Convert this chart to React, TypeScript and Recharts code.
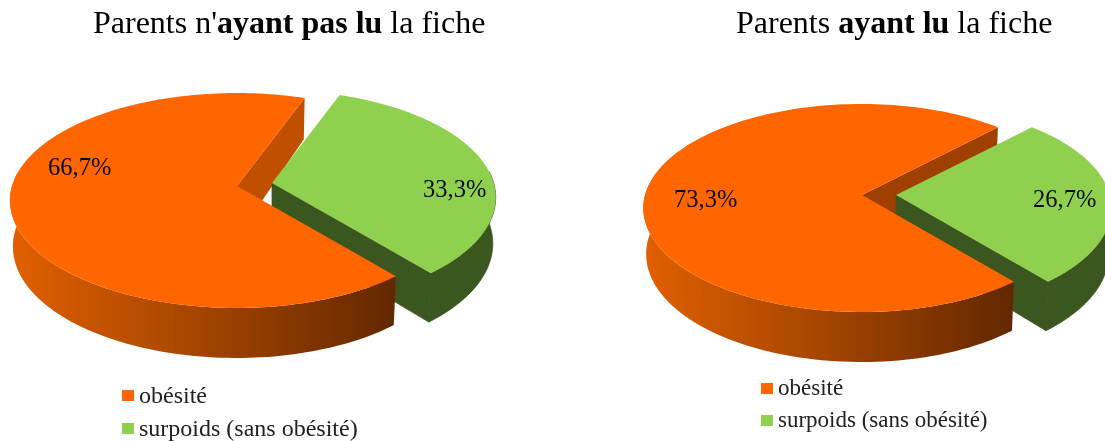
import React from "react";
import { PieChart, Pie, Legend } from "recharts";

const categories = ["surpoids (sans obésité)", "obésité"];
const colours = ["#8fd04f", "#ff6600"];
const leftValues = [33.3, 66.7];
const rightValues = [26.7, 73.3];

const FONT = "'Liberation Serif', 'Times New Roman', serif";
const OBESITE = categories[1];

type Panel = {
  id: string;
  left: number;
  cx: number;
  cy: number;
  rx: number;
  ry: number;
  k: number;
  startAngle: number;
  explode: [number, number];
  cutWall: string;
  labels: Record<string, [number, number]>;
  legend: { left: number; top: number; gap: number; fontSize: number };
};

const panels: { values: number[]; title: React.ReactNode; titleLeft: number; panel: Panel }[] = [
  {
    values: leftValues,
    titleLeft: 93,
    title: (
      <>
        Parents n'<b>ayant pas lu</b> la fiche
      </>
    ),
    panel: {
      id: "a",
      left: 0,
      cx: 237,
      cy: 186,
      rx: 225,
      ry: 105.5,
      k: 0.135,
      startAngle: 70,
      explode: [35, -3],
      cutWall: "#c04f00",
      labels: { [OBESITE]: [48, 175], [categories[0]]: [423, 197] },
      legend: { left: 122, top: 379, gap: 33, fontSize: 24 },
    },
  },
  {
    values: rightValues,
    titleLeft: 736,
    title: (
      <>
        Parents <b>ayant lu</b> la fiche
      </>
    ),
    panel: {
      id: "b",
      left: 552,
      cx: 310,
      cy: 195,
      rx: 217,
      ry: 102.4,
      k: 0.125,
      startAngle: 46,
      explode: [34, 0],
      cutWall: "#a04000",
      labels: { [OBESITE]: [122, 207], [categories[0]]: [481, 207] },
      legend: { left: 761, top: 372, gap: 32, fontSize: 23 },
    },
  },
];

const RAD = Math.PI / 180;

function makeShape(p: Panel) {
  return function PieSlice(props: any) {
    const isOrange = props.name === OBESITE;
    const geometry = (dx: number, dy: number) => {
      const cx = props.cx + dx;
      const cy = props.cy + dy;
      const top = (deg: number, r = 1): [number, number, number] => {
        const u = r * Math.cos(deg * RAD);
        const v = r * Math.sin(deg * RAD);
        const s = 1 / (1 + p.k * v);
        const rx = u > 0 ? p.rx * 0.985 : p.rx;
        return [cx + rx * u * s, cy - p.ry * v * s, v];
      };
      const low = (deg: number, r = 1): [number, number] => {
        const [x, y, v] = top(deg, r);
        return [cx + (x - cx) * 0.987, y + 45.5 - 4.5 * v];
      };
      return { top, low };
    };
    const [dx, dy] = isOrange ? [0, 0] : p.explode;
    const { top, low } = geometry(dx, dy);
    const angles: number[] = [];
    const n = 160;
    for (let i = 0; i <= n; i++) {
      angles.push(props.startAngle + ((props.endAngle - props.startAngle) * i) / n);
    }
    const front = angles.filter((a) => Math.sin(a * RAD) <= 0.12);
    const path = (pts: number[][]) =>
      "M" + pts.map((q) => `${q[0].toFixed(2)},${q[1].toFixed(2)}`).join("L") + "Z";
    const a0 = props.startAngle;
    const a1 = props.endAngle;
    const gid = `wall-${p.id}`;
    const rest = geometry(0, 0);
    const nudge = (q: [number, number]): [number, number] => [q[0] + 2, q[1] + 3];
    const greenEdge = { stroke: "#3c5620", strokeWidth: 0.8 };
    return (
      <g>
        <defs>
          <linearGradient id={gid} x1="0" y1="0" x2="1" y2="0">
            <stop offset="0" stopColor="#e26000" />
            <stop offset="1" stopColor="#632800" />
          </linearGradient>
        </defs>
        {!isOrange && (
          <path
            d={path([rest.top(a1, 0), rest.top(a1), rest.low(a1), nudge(rest.low(a1, 0))])}
            fill={p.cutWall}
          />
        )}
        {!isOrange && (
          <path d={path([top(a0, 0), top(a0), low(a0), low(a0, 0)])} fill="#3c5620" {...greenEdge} />
        )}
        <path
          d={path([...front.map((a) => top(a)), ...front.slice().reverse().map((a) => low(a))])}
          fill={isOrange ? `url(#${gid})` : "#3c5620"}
          {...(isOrange ? {} : greenEdge)}
        />
        <path d={path([top(a0, 0), ...angles.map((a) => top(a))])} fill={props.fill} />
      </g>
    );
  };
}

function makeLabel(p: Panel) {
  return function PieLabel(props: any) {
    const at = p.labels[props.name];
    return (
      <text x={at[0]} y={at[1]} fontFamily={FONT} fontSize={24.5} fill="#0a0a0a">
        {String(props.value).replace(".", ",") + "%"}
      </text>
    );
  };
}

function makeLegend(p: Panel) {
  return function PanelLegend(props: any) {
    const items = [...(props.payload || [])].sort((a: any, b: any) =>
      String(a.value).localeCompare(String(b.value))
    );
    return (
      <div style={{ fontFamily: FONT, fontSize: p.legend.fontSize, color: "#222" }}>
        {items.map((it: any) => (
          <div
            key={it.value}
            style={{ display: "flex", alignItems: "center", height: p.legend.gap, whiteSpace: "pre" }}
          >
            <span
              style={{ width: 12, height: 11, background: it.color, marginRight: 5, flex: "none" }}
            />
            <span>{it.value}</span>
          </div>
        ))}
      </div>
    );
  };
}

export default function App() {
  return (
    <div
      style={{
        position: "absolute",
        left: 0,
        top: 0,
        width: 1105,
        height: 441,
        overflow: "hidden",
        background: "#fff",
        filter: "blur(0.4px)",
      }}
    >
      {panels.map(({ values, title, titleLeft, panel }) => {
        const table = categories.map((name, i) => ({ name, value: values[i], fill: colours[i] }));
        return (
          <React.Fragment key={panel.id}>
            <div style={{ position: "absolute", left: panel.left, top: 0 }}>
              <PieChart width={553} height={441} margin={{ top: 0, right: 0, bottom: 0, left: 0 }}>
                <Pie
                  data={table}
                  dataKey="value"
                  nameKey="name"
                  cx={panel.cx}
                  cy={panel.cy}
                  outerRadius={panel.rx}
                  startAngle={panel.startAngle + (panel.id === "a" ? 240 : 264)}
                  endAngle={panel.startAngle + (panel.id === "a" ? 600 : 624)}
                  shape={makeShape(panel)}
                  label={makeLabel(panel)}
                  labelLine={false}
                  stroke="none"
                  legendType="square"
                  isAnimationActive={false}
                />
                <Legend
                  content={makeLegend(panel)}
                  wrapperStyle={{
                    position: "absolute",
                    left: panel.legend.left - panel.left,
                    top: panel.legend.top,
                    width: 300,
                    bottom: "auto",
                    right: "auto",
                  }}
                />
              </PieChart>
            </div>
            <div
              style={{
                position: "absolute",
                left: titleLeft,
                top: 4,
                fontFamily: FONT,
                fontSize: 32,
                lineHeight: "36px",
                color: "#000",
                whiteSpace: "pre",
              }}
            >
              {title}
            </div>
          </React.Fragment>
        );
      })}
    </div>
  );
}
